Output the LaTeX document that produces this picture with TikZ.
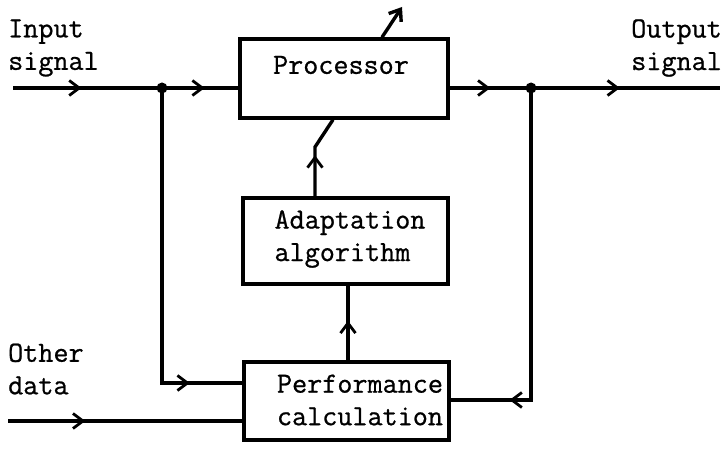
\documentclass[tikz,border=0pt]{standalone}
\usepackage{fontspec}
\newfontfamily\tw[FakeBold=0.8]{Latin Modern Mono}
\usetikzlibrary{arrows.meta,decorations.markings}
\tikzset{
  box/.style={draw, line width=3.4pt, inner sep=0pt},
  wire/.style={line width=3.4pt},
  txt/.style={font=\tw\fontsize{29.3}{32.5}\selectfont, align=left, inner sep=0pt},
  midarrow/.style={postaction={decorate}, decoration={markings, mark=at position #1 with {\arrow[line width=2.8pt]{Straight Barb[length=10pt,width=15pt]}}}},
  dot/.style={circle, fill, inner sep=0pt, minimum size=11pt}
}
\begin{document}
\begin{tikzpicture}[x=1pt,y=-1pt]
\useasboundingbox (0,0) rectangle (725,449);
% boxes
\node[box, minimum width=208pt, minimum height=79pt] (proc) at (344,78.5) {};
\node[box, minimum width=205pt, minimum height=86pt] (adapt) at (345.5,241) {};
\node[box, minimum width=205pt, minimum height=78pt] (perf) at (346.5,401) {};
% texts
\node[txt] (proct) at (341,65) {Processor};
\node[txt] (adaptt) at (350,239) {Adaptation\\algorithm};
\node[txt] (perft) at (360,400) {Performance\\calculation};
\node[txt, anchor=west] (inl) at (8,48) {Input\\signal};
\node[txt, anchor=east] (outl) at (722,48) {Output\\signal};
\node[txt, anchor=west] (othl) at (8,369) {Other\\data};
% coordinates
\coordinate (inS) at (13,88);
\coordinate (j1) at (162,88);
\coordinate (j2) at (531,88);
\coordinate (outE) at (720,88);
\coordinate (othS) at (8,421);
\coordinate (upT) at (402,7);
% junction dots
\node[dot] (d1) at (j1) {};
\node[dot] (d2) at (j2) {};
% main signal path
\draw[wire, midarrow=0.46] (inS) -- (j1);
\draw[wire, midarrow=0.56] (j1) -- (proc.west |- j1);
\draw[wire, midarrow=0.5] (proc.east |- j2) -- (j2);
\draw[wire, midarrow=0.47] (j2) -- (outE);
% adjustment out of processor
\draw[wire, -{Straight Barb[length=10pt,width=15pt]}] (proc.north -| 382,0) -- (upT);
% adaptation to processor
\draw[wire, midarrow=0.5] (adapt.north -| 315,0) -- (315,147) -- (proc.south -| 333,0);
% performance to adaptation
\draw[wire, midarrow=0.53] (perf.north -| 348,0) -- (adapt.south -| 348,0);
% feedbacks
\draw[wire, midarrow=0.86] (j1) |- (perf.west |- 0,383);
\draw[wire, midarrow=0.85] (j2) |- (perf.east |- 0,400);
\draw[wire, midarrow=0.33] (othS) -- (perf.west |- othS);
\end{tikzpicture}
\end{document}
